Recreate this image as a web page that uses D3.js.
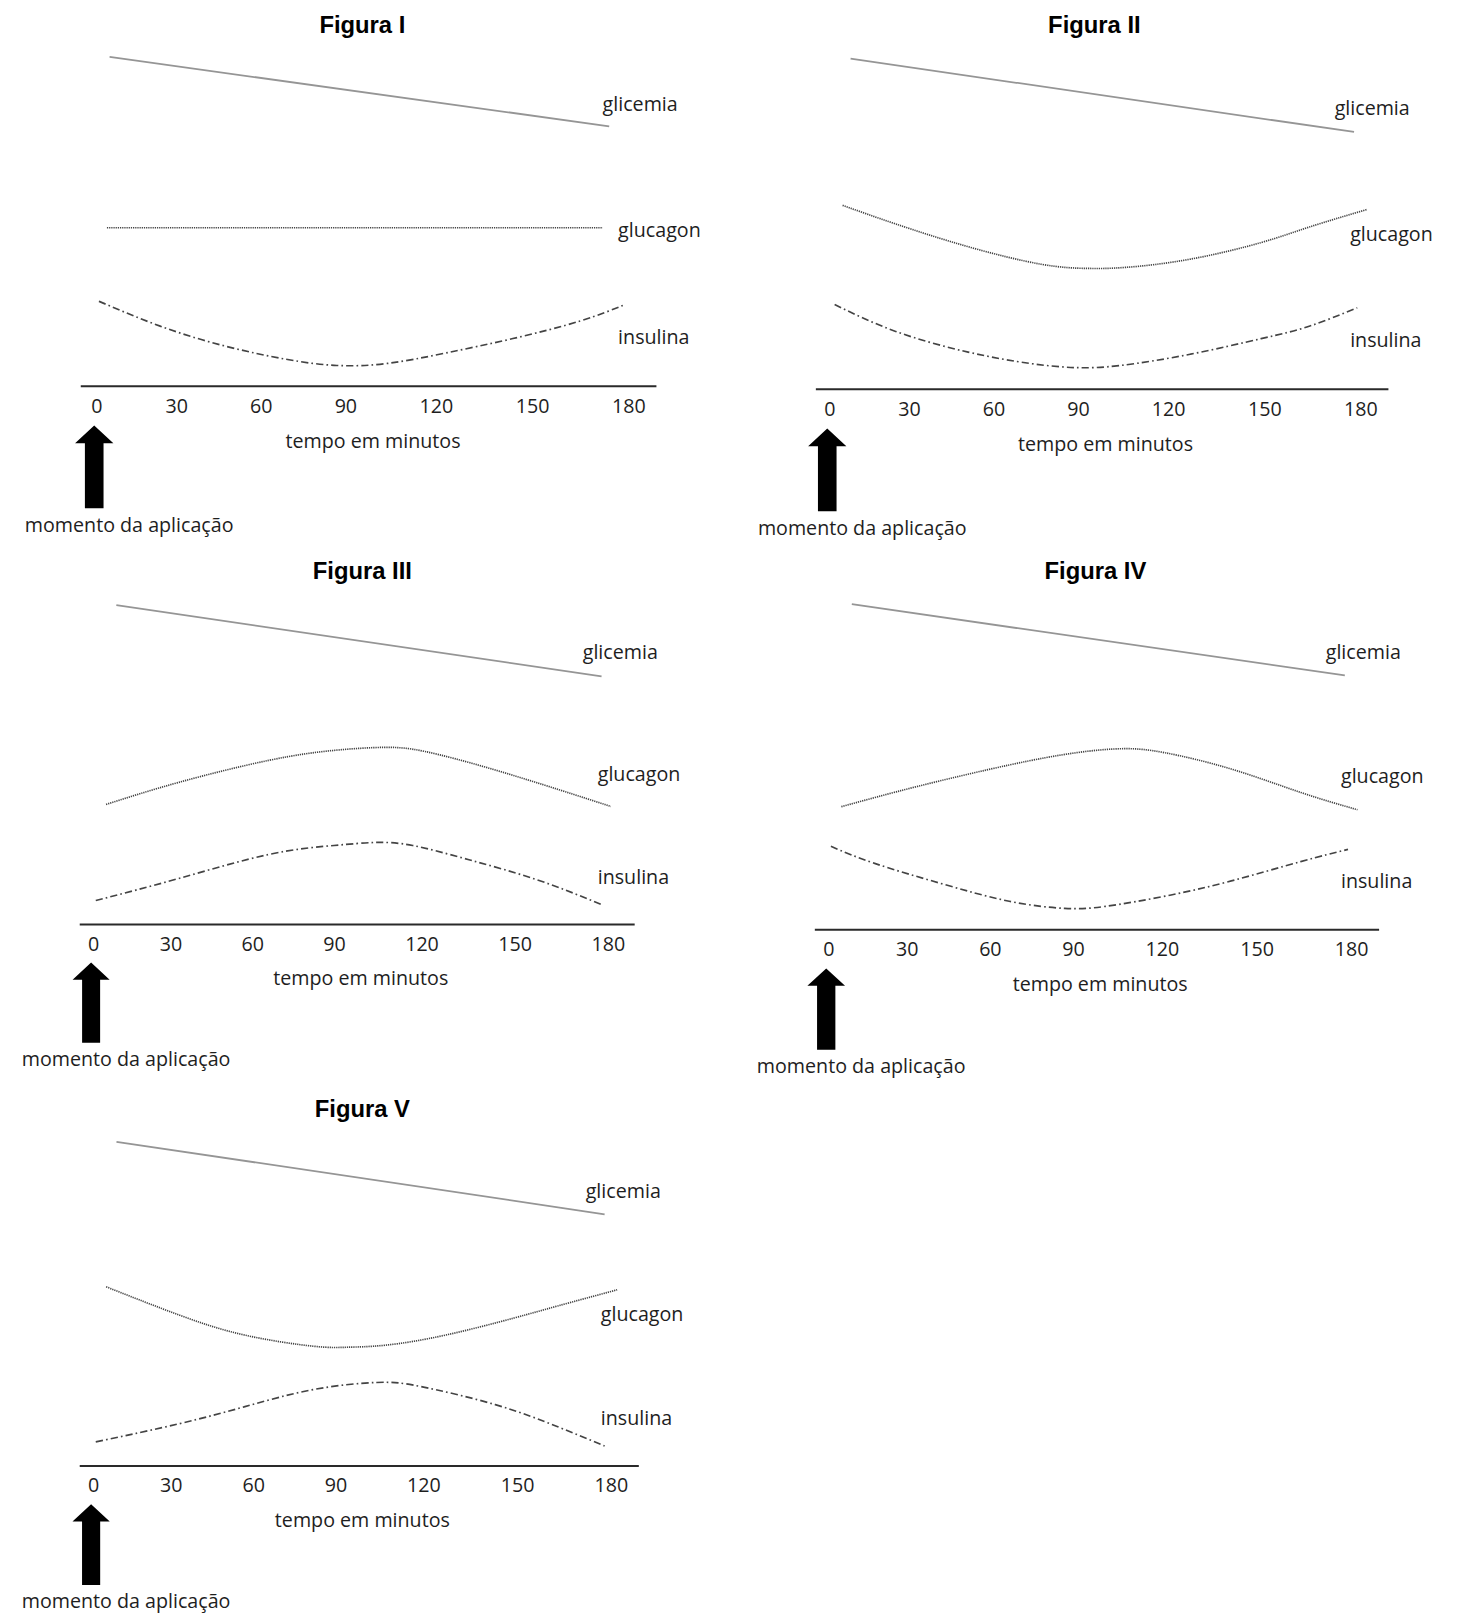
<!DOCTYPE html>
<html>
<head>
<meta charset="utf-8">
<script src="https://cdn.jsdelivr.net/npm/d3@7"></script>
<style>
  html, body { margin: 0; padding: 0; background: #ffffff; }
  svg { display: block; }
</style>
</head>
<body>
<script>
// ---------------- DATA ----------------
const tickValues = [0, 30, 60, 90, 120, 150, 180];
const tickLabels = ["0", "30", "60", "90", "120", "150", "180"];
const figureTitles = ["Figura I", "Figura II", "Figura III", "Figura IV", "Figura V"];
const seriesNames = ["glicemia", "glucagon", "insulina"];
const xAxisTitle = "tempo em minutos";
const arrowLabel = "momento da aplicação";

// [time (min), level (arbitrary units)]
const fig1Glicemia = [[5, 318], [174, 251]];
const fig1Glucagon = [[4, 153], [172, 153]];
const fig1Insulina = [[1, 82], [24, 58], [47, 39], [69, 26], [87, 20], [104, 22], [123, 32], [144, 46], [165, 63], [179, 79]];

const fig2Glicemia = [[8, 320], [178, 249]];
const fig2Glucagon = [[5, 178], [25, 160], [51, 138], [77, 121], [93, 117], [106, 118], [127, 126], [149, 142], [164, 157], [182, 174]];
const fig2Insulina = [[2, 82], [25, 56], [51, 36], [73, 25], [89, 21], [104, 23], [127, 34], [149, 49], [164, 61], [179, 79]];

const fig3Glicemia = [[9, 319], [178, 248]];
const fig3Glucagon = [[5, 120], [33, 142], [66, 164], [90, 174], [107, 177], [121, 173], [142, 156], [164, 135], [181, 118]];
const fig3Insulina = [[1, 24], [33, 46], [66, 70], [90, 79], [104, 82], [117, 79], [135, 65], [157, 45], [178, 20]];

const fig4Glicemia = [[9, 320], [178, 250]];
const fig4Glucagon = [[5, 121], [34, 141], [67, 162], [91, 174], [107, 178], [121, 174], [142, 158], [164, 135], [182, 118]];
const fig4Insulina = [[1, 82], [18, 65], [43, 45], [67, 28], [87, 21], [101, 23], [121, 33], [142, 48], [164, 67], [179, 79]];

const fig5Glicemia = [[9, 322], [178, 250]];
const fig5Glucagon = [[5, 178], [33, 150], [57, 130], [82, 119], [94, 118], [107, 120], [127, 130], [149, 147], [163, 159], [182, 175]];
const fig5Insulina = [[1, 24], [33, 42], [57, 59], [82, 76], [104, 83], [119, 79], [143, 61], [163, 39], [178, 20]];

const figureData = [
  [fig1Glicemia, fig1Glucagon, fig1Insulina],
  [fig2Glicemia, fig2Glucagon, fig2Insulina],
  [fig3Glicemia, fig3Glucagon, fig3Insulina],
  [fig4Glicemia, fig4Glucagon, fig4Insulina],
  [fig5Glicemia, fig5Glucagon, fig5Insulina]
];

// ---------------- LAYOUT ----------------
const W = 1464, H = 1622;
const VBW = 1414, VBH = 1622 * 1414 / 1464;
// relative positions of the printed tick marks along the (hand-drawn) time axis
const tickFrac = [0, 0.150, 0.309, 0.468, 0.638, 0.819, 1];
const panels = [
  { x0: 93,  span: 514, axisY: 373,  titleX: 350,  titleY: 24,   axisL: 78,  axisR: 634 },
  { x0: 801, span: 513, axisY: 376,  titleX: 1057, titleY: 24,   axisL: 788, axisR: 1341 },
  { x0: 90,  span: 497, axisY: 893,  titleX: 350,  titleY: 551,  axisL: 77,  axisR: 613 },
  { x0: 800, span: 505, axisY: 898,  titleX: 1058, titleY: 551,  axisL: 787, axisR: 1332 },
  { x0: 90,  span: 500, axisY: 1416, titleX: 350,  titleY: 1071, axisL: 77,  axisR: 617 }
];
const labelLevels = [272, 150, 47];
const labelOffsets = [25, 10, 10];
const seriesStyles = [
  { stroke: "#959595", width: 1.7, dash: null },
  { stroke: "#454545", width: 1.6, dash: "1.2,0.9" },
  { stroke: "#444444", width: 1.6, dash: "7,3,1.6,3" }
];
const FONT = "'Open Sans', 'Noto Sans', sans-serif";
const TEXT = "#1e1e1e";

const svg = d3.select("body").append("svg")
  .attr("width", W).attr("height", H)
  .attr("viewBox", `0 0 ${VBW} ${VBH}`);

svg.append("rect").attr("width", VBW).attr("height", VBH).attr("fill", "#fff");

panels.forEach((p, i) => {
  const k = p.span / 514;
  const x = d3.scaleLinear().domain(tickValues).range(tickFrac.map(f => p.x0 + f * p.span));
  const y = d3.scaleLinear().domain([0, 320]).range([p.axisY, p.axisY - 320 * k]);
  const g = svg.append("g").attr("class", "panel");

  // title
  g.append("text")
    .attr("x", p.titleX).attr("y", p.titleY)
    .attr("dy", "0.36em")
    .attr("text-anchor", "middle")
    .attr("font-family", "'Liberation Sans', Arial, sans-serif")
    .attr("font-weight", "bold")
    .attr("font-size", 23)
    .attr("fill", "#000")
    .text(figureTitles[i]);

  // series
  const line = d3.line()
    .x(d => x(d[0]))
    .y(d => y(d[1]))
    .curve(d3.curveNatural);

  figureData[i].forEach((series, j) => {
    const st = seriesStyles[j];
    g.append("path")
      .datum(series)
      .attr("d", line)
      .attr("fill", "none")
      .attr("stroke", st.stroke)
      .attr("stroke-width", st.width)
      .attr("stroke-dasharray", st.dash);

    g.append("text")
      .attr("x", x(180) - labelOffsets[j] * k)
      .attr("y", y(labelLevels[j]))
      .attr("dy", "0.32em")
      .attr("font-family", FONT)
      .attr("font-size", 19)
      .attr("fill", TEXT)
      .text(seriesNames[j]);
  });

  // axis baseline
  g.append("line")
    .attr("x1", p.axisL).attr("x2", p.axisR)
    .attr("y1", p.axisY).attr("y2", p.axisY)
    .attr("stroke", "#2a2a2a")
    .attr("stroke-width", 2);

  // tick labels via d3 axis
  const axis = d3.axisBottom(x)
    .tickValues(tickValues)
    .tickFormat((d, j) => tickLabels[j])
    .tickSize(0)
    .tickPadding(12);
  const ag = g.append("g")
    .attr("transform", `translate(0,${p.axisY})`)
    .call(axis);
  ag.select(".domain").remove();
  ag.selectAll("text")
    .attr("font-family", FONT)
    .attr("font-size", 19)
    .attr("fill", TEXT);

  // axis title
  g.append("text")
    .attr("x", p.x0 + 0.52 * p.span)
    .attr("y", p.axisY + 54 * k)
    .attr("dy", "0.32em")
    .attr("text-anchor", "middle")
    .attr("font-family", FONT)
    .attr("font-size", 19)
    .attr("fill", TEXT)
    .text(xAxisTitle);

  // application arrow
  const ax = x(0) - 2;
  const top = p.axisY + 38 * k, headBase = p.axisY + 55 * k, bottom = p.axisY + 118 * k;
  const hw = 18.5 * k, sw = 9 * k;
  g.append("path")
    .attr("d", `M${ax},${top} L${ax + hw},${headBase} L${ax + sw},${headBase} L${ax + sw},${bottom} L${ax - sw},${bottom} L${ax - sw},${headBase} L${ax - hw},${headBase} Z`)
    .attr("fill", "#000");

  g.append("text")
    .attr("x", p.x0 - 69)
    .attr("y", p.axisY + 135 * k)
    .attr("dy", "0.32em")
    .attr("font-family", FONT)
    .attr("font-size", 19)
    .attr("fill", TEXT)
    .text(arrowLabel);
});
</script>
</body>
</html>
